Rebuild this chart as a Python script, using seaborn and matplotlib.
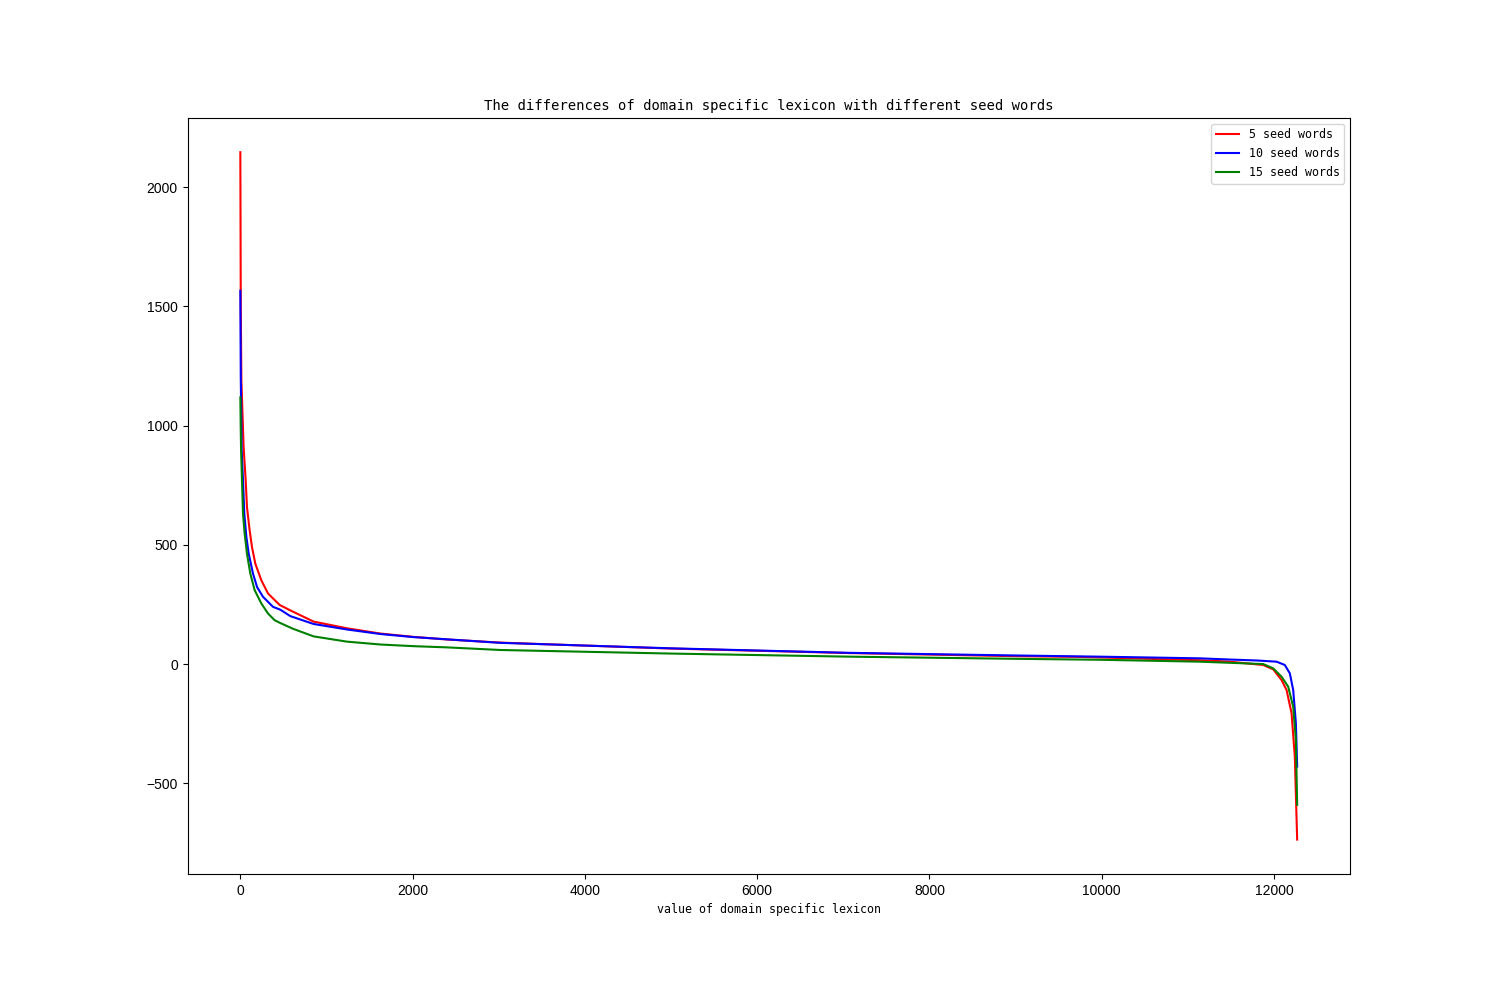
import matplotlib
matplotlib.use("Agg")
import matplotlib.pyplot as plt
import seaborn as sns
import pandas as pd

# Values (index of word, score)
red_x = [0, 5, 12, 38, 62, 77, 108, 135, 174, 244, 321, 456, 580, 851, 1238, 1625,
         2011, 2398, 3017, 3481, 5000, 7079, 9000, 9748, 11141, 11489, 11876, 11992,
         12089, 12147, 12205, 12243, 12270]
red_y = [2146, 1500, 1190, 909, 770, 658, 561, 491, 421, 351, 296, 248, 225, 178, 150, 128,
         114, 103, 90, 84, 65, 46, 33, 30, 16, 10, -4, -22,
         -67, -109, -206, -388, -736]

blue_x = [0, 5, 15, 31, 46, 70, 97, 147, 194, 263, 379, 464, 580, 851, 1238, 1625,
          2011, 3017, 5000, 7079, 9000, 9980, 11141, 11489, 11800, 12031, 12127, 12185,
          12224, 12255, 12270]
blue_y = [1565, 1200, 900, 770, 630, 533, 463, 379, 323, 282, 240, 228, 201, 168, 145, 126,
          113, 89, 66, 47, 36, 31, 24, 19, 15, 10, -4, -39,
          -109, -248, -430]

green_x = [0, 4, 8, 19, 31, 50, 77, 116, 166, 244, 321, 398, 464, 611, 851, 1238, 1625,
           2011, 2398, 3017, 5000, 7079, 9000, 9980, 11141, 11876, 11992, 12089, 12166,
           12224, 12255, 12270]
green_y = [1118, 1000, 909, 770, 630, 547, 463, 379, 310, 254, 212, 184, 172, 148, 116, 94, 82,
           75, 70, 59, 44, 31, 22, 18, 10, 0, -18, -53, -95,
           -179, -318, -590]

series_labels = ["5 seed words", "10 seed words", "15 seed words"]
series_colors = ["red", "blue", "green"]

title_text = "The differences of domain specific lexicon with different seed words"
xlabel_text = "value of domain specific lexicon"

mono = ["DejaVu Sans Mono", "Liberation Mono"]
tick_font = ["Liberation Sans", "DejaVu Sans"]

fig, ax = plt.subplots(figsize=(15, 9.82), dpi=100)

for xs, ys, lab, col in zip([red_x, blue_x, green_x], [red_y, blue_y, green_y],
                            series_labels, series_colors):
    df = pd.DataFrame({"x": xs, "y": ys})
    sns.lineplot(data=df, x="x", y="y", ax=ax, color=col, label=lab,
                 estimator=None, linewidth=1.5)

ax.set_title(title_text, family=mono, fontsize=10)
ax.set_xlabel(xlabel_text, family=mono, fontsize=8.4)
ax.set_ylabel("")
for lbl in ax.get_xticklabels() + ax.get_yticklabels():
    lbl.set_family(tick_font)
    lbl.set_fontsize(10)

ax.legend(loc="upper right", prop={"family": mono, "size": 8.4})

fig.savefig("out.png", dpi=100)
